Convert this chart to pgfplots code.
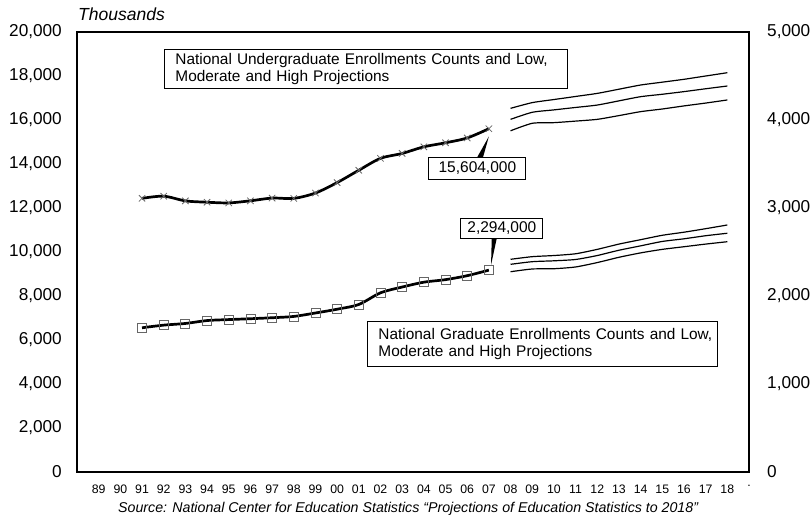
\documentclass[border=0pt]{standalone}
\usepackage{fontspec}
\setmainfont{Liberation Sans}
\usepackage{pgfplots}
\pgfplotsset{compat=1.18}
\begin{document}
\begin{tikzpicture}
\path[use as bounding box] (0,0) rectangle (812bp,-520bp);
\pgfplotsset{
  common/.style={
    scale only axis, width=672bp, height=440bp,
    anchor=south west, at={(77bp,-472bp)},
    xmin=-1, xmax=30,
    tick style={draw=none},
    scaled y ticks=false,
    /pgf/number format/assume math mode=true,
    /pgf/number format/fixed,
    /pgf/number format/1000 sep={,},
    clip=false,
  }
}
\begin{axis}[common,
  ymin=0, ymax=20000,
  axis line style={line width=2bp},
  xtick={0,...,30},
  xticklabels={89,90,91,92,93,94,95,96,97,98,99,00,01,02,03,04,05,06,07,08,09,10,11,12,13,14,15,16,17,18,.},
  ytick={0,2000,...,20000},
  ytick pos=left, xtick pos=bottom,
  yticklabel style={font=\fontsize{17.2bp}{19bp}\selectfont, inner sep=0pt, xshift=-15bp},
  xticklabel style={font=\fontsize{12.3bp}{14bp}\selectfont, inner sep=0pt, yshift=-13bp},
]
% undergraduate actual
\addplot[line width=2.7bp, black, smooth, tension=0.5, mark=x, mark size=4.5bp,
  mark options={draw=black!60, line width=0.8bp}] coordinates {
  (2,12439) (3,12537) (4,12324) (5,12263) (6,12232) (7,12327) (8,12451) (9,12437)
  (10,12681) (11,13155) (12,13716) (13,14257) (14,14480) (15,14781) (16,14964) (17,15184) (18,15604)};
% undergraduate projections: high, middle, low
\addplot[line width=1.2bp, black, smooth, tension=0.4] coordinates {
  (19,16530) (20,16790) (21,16930) (22,17070) (23,17210) (24,17400) (25,17590) (26,17720) (27,17850) (28,18000) (29,18150)};
\addplot[line width=1.2bp, black, smooth, tension=0.4] coordinates {
  (19,16030) (20,16350) (21,16460) (22,16570) (23,16680) (24,16870) (25,17060) (26,17170) (27,17290) (28,17420) (29,17545)};
\addplot[line width=1.2bp, black, smooth, tension=0.4] coordinates {
  (19,15510) (20,15850) (21,15880) (22,15950) (23,16030) (24,16200) (25,16380) (26,16500) (27,16640) (28,16770) (29,16910)};
% callout
\fill[black] (axis cs:17.40,14200) -- (axis cs:17.70,14200) -- (axis cs:18.0,15250) -- cycle;
\node[draw=black, fill=white, line width=0.9bp, minimum width=97bp, minimum height=22bp, inner sep=0pt,
  font=\fontsize{15.5bp}{17bp}\selectfont] at (axis cs:17.47,13818) {15,604,000};
\end{axis}
\begin{axis}[common,
  ymin=0, ymax=5000,
  hide x axis,
  axis y line*=right,
  y axis line style={draw=none},
  ytick={0,1000,...,5000},
  yticklabel style={font=\fontsize{17.2bp}{19bp}\selectfont, inner sep=0pt, xshift=18bp},
]
\addplot[line width=2.7bp, black, smooth, tension=0.5, mark=square, mark size=4.5bp,
  mark options={draw=black!60, line width=0.8bp}] coordinates {
  (2,1639) (3,1669) (4,1688) (5,1721) (6,1732) (7,1742) (8,1753) (9,1768)
  (10,1807) (11,1850) (12,1904) (13,2036) (14,2102) (15,2157) (16,2186) (17,2231) (18,2294)};
\addplot[line width=1.2bp, black, smooth, tension=0.4] coordinates {
  (19,2417) (20,2447) (21,2460) (22,2480) (23,2530) (24,2590) (25,2640) (26,2690) (27,2725) (28,2765) (29,2807)};
\addplot[line width=1.2bp, black, smooth, tension=0.4] coordinates {
  (19,2360) (20,2390) (21,2400) (22,2415) (23,2460) (24,2520) (25,2570) (26,2620) (27,2650) (28,2685) (29,2713)};
\addplot[line width=1.2bp, black, smooth, tension=0.4] coordinates {
  (19,2276) (20,2307) (21,2310) (22,2330) (23,2380) (24,2440) (25,2490) (26,2530) (27,2560) (28,2590) (29,2617)};
\fill[black] (axis cs:18.14,2720) -- (axis cs:18.42,2720) -- (axis cs:18.1,2352) -- cycle;
\node[draw=black, fill=white, line width=0.9bp, minimum width=82bp, minimum height=20bp, inner sep=0pt,
  font=\fontsize{15.5bp}{17bp}\selectfont] at (axis cs:18.6,2773) {2,294,000};
\end{axis}
% text boxes
\node[draw=black, line width=0.9bp, anchor=north west, minimum width=403bp, minimum height=39bp,
  align=left, inner xsep=0pt, inner ysep=0pt, text width=403bp,
  font=\fontsize{15.4bp}{17.5bp}\selectfont] at (164bp,-49bp)
  {\hspace*{11bp}National Undergraduate Enrollments Counts and Low,\\\hspace*{11bp}Moderate and High Projections};
\node[draw=black, line width=0.9bp, anchor=north west, minimum width=350bp, minimum height=45bp,
  align=left, inner xsep=0pt, inner ysep=0pt, text width=350bp,
  font=\fontsize{15.4bp}{17.5bp}\selectfont] at (367bp,-321bp)
  {\hspace*{11bp}National Graduate Enrollments Counts and Low,\\\hspace*{11bp}Moderate and High Projections};
\node[anchor=west, inner sep=0pt, font=\fontsize{17.5bp}{20bp}\selectfont\itshape] at (78bp,-14bp) {Thousands};
\node[anchor=west, inner sep=0pt, font=\fontsize{14.2bp}{16bp}\selectfont\itshape] at (118bp,-509bp)
  {Source: National Center for Education Statistics “Projections of Education Statistics to 2018”};
\end{tikzpicture}
\end{document}
